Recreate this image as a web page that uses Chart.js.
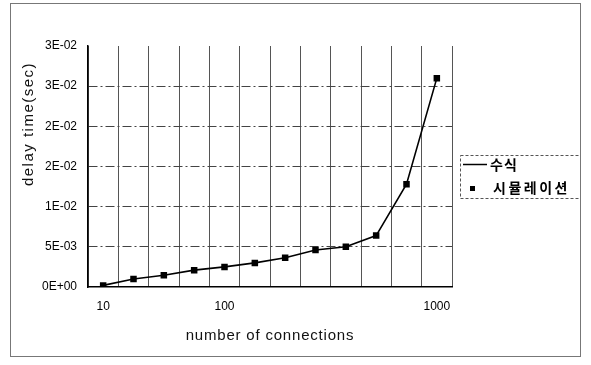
<!DOCTYPE html>
<html>
<head>
<meta charset="utf-8">
<script src="https://cdn.jsdelivr.net/npm/chart.js@4/dist/chart.umd.min.js"></script>
<style>
  html, body { margin: 0; padding: 0; background: #fff; }
  #wrap { position: relative; width: 591px; height: 365px; }
  #frame { position: absolute; left: 10px; top: 3px; width: 571px; height: 354px; border: 1px solid #777; box-sizing: border-box; pointer-events: none; }
  canvas { position: absolute; left: 0; top: 0; }
</style>
</head>
<body>
<div id="wrap">
  <canvas id="myChart" width="591" height="365"></canvas>
  <div id="frame"></div>
</div>
<script>
// x categories (only a few are labelled on the axis)
const xLabels = ['10', '', '', '', '100', '', '', '', '', '', '', '1000'];

// delay time (sec)
const formulaDelay = [0.0002, 0.0010, 0.00146, 0.0021, 0.0025, 0.0030, 0.00365, 0.0046, 0.0050, 0.0064, 0.0128, 0.0260];
const simDelay     = [0.0002, 0.0010, 0.00146, 0.0021, 0.0025, 0.0030, 0.00365, 0.0046, 0.0050, 0.0064, 0.0128, 0.0260];

// y tick labels as printed (Excel 0E+00 format)
const yTickLabels = ['0E+00', '5E-03', '1E-02', '2E-02', '2E-02', '3E-02', '3E-02'];

const legendNames = ['수식', '시뮬레이션'];

const FONT = '"Liberation Sans", Arial, sans-serif';
const KFONT = '"Noto Sans CJK KR", sans-serif';

// axis titles + boxed legend drawn on the canvas
const extras = {
  id: 'extras',
  afterDraw(chart) {
    const ctx = chart.ctx;
    const a = chart.chartArea;
    ctx.save();
    ctx.fillStyle = '#111';
    ctx.textBaseline = 'middle';
    ctx.textAlign = 'center';
    ctx.font = '15px ' + FONT;
    if ('letterSpacing' in ctx) ctx.letterSpacing = '0.8px';
    ctx.fillText('number of connections', (a.left + a.right) / 2, 336);

    ctx.save();
    ctx.translate(29, 124);
    ctx.rotate(-Math.PI / 2);
    if ('letterSpacing' in ctx) ctx.letterSpacing = '1.5px';
    ctx.fillText('delay time(sec)', 0, 0);
    ctx.restore();

    // legend
    const lx = a.right + 8, ly = 155, lw = 120, lh = 43;
    ctx.strokeStyle = '#555';
    ctx.lineWidth = 1;
    ctx.setLineDash([3, 2]);
    ctx.strokeRect(lx + 0.5, ly + 0.5, lw, lh);
    ctx.setLineDash([]);

    ctx.strokeStyle = '#000';
    ctx.lineWidth = 1.5;
    ctx.beginPath();
    ctx.moveTo(lx + 3, 164.5);
    ctx.lineTo(lx + 27, 164.5);
    ctx.stroke();
    ctx.fillStyle = '#000';
    ctx.fillRect(lx + 10, 186, 5, 5);

    ctx.textAlign = 'left';
    ctx.font = 'bold 14px ' + KFONT;
    if ('letterSpacing' in ctx) ctx.letterSpacing = '1px';
    ctx.fillText(legendNames[0], lx + 30, 165);
    if ('letterSpacing' in ctx) ctx.letterSpacing = '2.5px';
    ctx.fillText(legendNames[1], lx + 33, 188);
    ctx.restore();
  }
};

const data = {
  labels: xLabels,
  datasets: [{
    label: legendNames[0],
    data: formulaDelay,
    borderColor: '#000',
    borderWidth: 1.6,
    pointRadius: 0,
    tension: 0,
    fill: false
  }, {
    label: legendNames[1],
    data: simDelay,
    showLine: false,
    pointStyle: 'rect',
    pointRadius: 4.6,
    pointBackgroundColor: '#000',
    pointBorderColor: '#000',
    pointBorderWidth: 0
  }]
};

const config = {
  type: 'line',
  data: data,
  options: {
    responsive: false,
    animation: false,
    layout: { padding: { left: 12, top: 46, right: 139, bottom: 8 } },
    plugins: { legend: { display: false }, tooltip: { enabled: false } },
    scales: {
      x: {
        type: 'category',
        offset: true,
        grid: { offset: true, color: '#555', lineWidth: 1, drawTicks: false },
        border: { display: true, color: '#000', width: 1.5 },
        ticks: { autoSkip: false, maxRotation: 0, padding: 12, color: '#000', font: { family: FONT, size: 12 } },
        afterFit: s => { s.height = 70; }
      },
      y: {
        min: 0,
        max: 0.03,
        grid: {
          drawTicks: false,
          color: c => (c.tick && (c.tick.value >= 0.0299 || c.tick.value === 0)) ? 'rgba(0,0,0,0)' : '#444',
          lineWidth: 1
        },
        // in Chart.js v4 border.dash styles the grid lines; axis line stays solid
        border: { display: true, color: '#000', width: 1.5, dash: [9, 3, 2, 3] },
        ticks: {
          stepSize: 0.005,
          padding: 11,
          color: '#000',
          font: { family: FONT, size: 12 },
          callback: (v, i) => yTickLabels[i]
        },
        afterFit: s => { s.width = 76; }
      }
    }
  },
  plugins: [extras]
};

const myChart = new Chart(document.getElementById('myChart'), config);
</script>
</body>
</html>
